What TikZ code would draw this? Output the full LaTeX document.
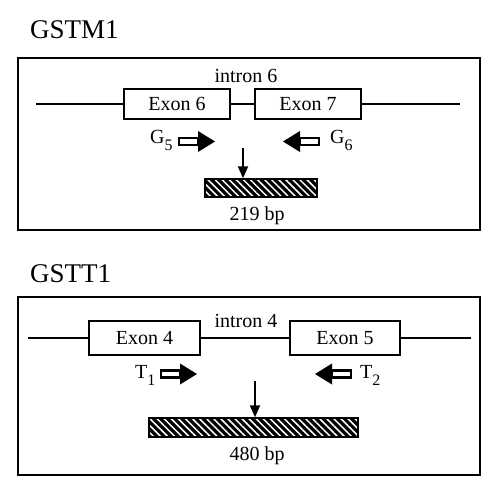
\documentclass[tikz,border=0pt]{standalone}
\usepackage{fontspec}
\setmainfont{Liberation Serif}
\usetikzlibrary{arrows.meta,patterns.meta}
\tikzset{
  exon/.style={draw,line width=2.6pt,fill=white,inner sep=0pt,
    font=\fontsize{20}{20}\selectfont},
  lbl/.style={inner sep=0pt,font=\fontsize{20}{20}\selectfont},
  title/.style={inner sep=0pt,anchor=base west,font=\fontsize{27}{27}\selectfont},
  panel/.style={draw,line width=1.6pt},
  product/.style={draw,line width=1.4pt,inner sep=0pt,preaction={fill=black},
    pattern={Lines[angle=-45,distance=5pt,line width=1.5pt]},pattern color=white},
  gene/.style={line width=2.5pt},
  down/.style={line width=2pt,-{Triangle[width=10pt,length=12pt]}},
}
% primer arrow: tail x, y, direction (1 or -1)
\newcommand{\primerarrow}[3]{%
  \fill[black] (#1+#3*20,#2-10.5) -- (#1+#3*37,#2) -- (#1+#3*20,#2+10.5) -- cycle;
  \draw[line width=2.4pt,fill=white] (#1+#3*1.2,#2-3.4) rectangle (#1+#3*20,#2+3.4);
}
% low subscript as in the figure
\newcommand{\lowsub}[1]{\raisebox{-7pt}{\fontsize{16}{16}\selectfont #1}}
\begin{document}
\begin{tikzpicture}[x=1pt,y=-1pt]
  \useasboundingbox (0,0) rectangle (500,495);
  % GSTM1
  \node[title] (tM) at (30,38) {GSTM1};
  \draw[panel] (18,58) rectangle (480,230);
  \coordinate (M_l) at (36,104);
  \coordinate (M_r) at (460,104);
  \node[exon,minimum width=106pt,minimum height=30pt] (ex6) at (177,104) {Exon 6};
  \node[exon,minimum width=106pt,minimum height=30pt] (ex7) at (308,104) {Exon 7};
  \draw[gene] (M_l) -- (ex6.west) (ex6.east) -- (ex7.west) (ex7.east) -- (M_r);
  \node[lbl,anchor=base] (in6) at (246,82) {intron 6};
  \primerarrow{178}{141.5}{1}
  \primerarrow{320}{141.5}{-1}
  \node[lbl,anchor=base west] (G5) at (150,143) {G\lowsub{5}};
  \node[lbl,anchor=base west] (G6) at (330,143) {G\lowsub{6}};
  \node[product,minimum width=112pt,minimum height=18pt] (bM) at (261,188) {};
  \node[lbl,anchor=base] (pM) at (257,220) {219 bp};
  \coordinate (dM) at (243,148);
  \draw[down] (dM) -- (dM |- bM.north);
  % GSTT1
  \node[title] (tT) at (30,282) {GSTT1};
  \draw[panel] (18,297) rectangle (480,475);
  \coordinate (T_l) at (28,338);
  \coordinate (T_r) at (471,338);
  \node[exon,minimum width=111pt,minimum height=34pt] (ex4) at (144.5,338) {Exon 4};
  \node[exon,minimum width=110pt,minimum height=34pt] (ex5) at (345,338) {Exon 5};
  \draw[gene] (T_l) -- (ex4.west) (ex4.east) -- (ex5.west) (ex5.east) -- (T_r);
  \node[lbl,anchor=base] (in4) at (246,327) {intron 4};
  \primerarrow{160}{374}{1}
  \primerarrow{352}{374}{-1}
  \node[lbl,anchor=base west] (T1) at (135,378) {T\lowsub{1}};
  \node[lbl,anchor=base west] (T2) at (360,378) {T\lowsub{2}};
  \node[product,minimum width=209pt,minimum height=19pt] (bT) at (253.5,427.5) {};
  \node[lbl,anchor=base] (pT) at (257,460) {480 bp};
  \coordinate (dT) at (255,381);
  \draw[down] (dT) -- (dT |- bT.north);
\end{tikzpicture}
\end{document}
